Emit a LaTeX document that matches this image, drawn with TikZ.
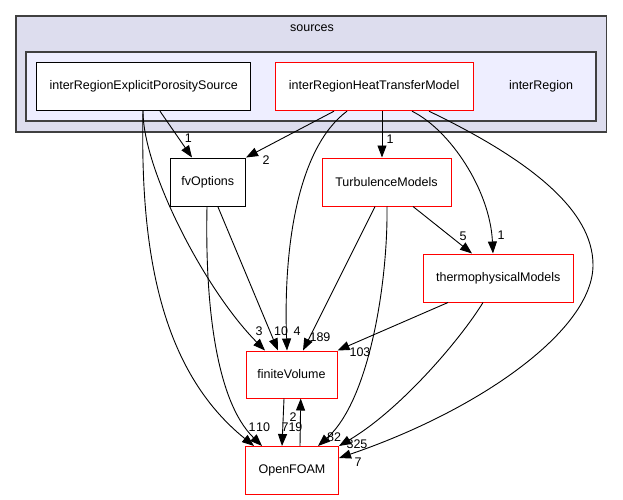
\documentclass[tikz,border=0pt]{standalone}
\usepackage{fontspec}
\setmainfont{Liberation Sans}
\usetikzlibrary{arrows.meta}
\definecolor{clusterouter}{HTML}{DDDDEE}
\definecolor{clusterinner}{HTML}{EEEEFF}
\definecolor{clusterline}{HTML}{404040}
\begin{document}
\begin{tikzpicture}[x=1pt,y=-1pt,
  txt/.style={font=\fontsize{12.5}{14}\selectfont},
  dirbox/.style={txt,draw=black,fill=white,line width=1pt,inner sep=0pt},
  redbox/.style={dirbox,draw=red},
  dep/.style={draw=black,line width=0.9pt,-{Triangle[length=12pt,width=9pt]}},
  lbl/.style={txt,inner sep=0pt},
  cluster/.style={draw=clusterline,line width=1.5pt}]
\useasboundingbox (0,0) rectangle (623,500);
\fill[white] (0,0) rectangle (623,500);

% directory clusters
\draw[cluster,fill=clusterouter] (16,16) rectangle (606.5,132);
\node[lbl] (srclabel) at (312,28) {sources};
\draw[cluster,fill=clusterinner] (26,52) rectangle (596,121);
\node[lbl] (irlabel) at (541,86.7) {interRegion};

% directories
\node[dirbox,minimum width=214pt,minimum height=48pt] (ep) at (143.7,86.7) {interRegionExplicitPorositySource};
\node[redbox,minimum width=197.7pt,minimum height=48pt] (ht) at (374.15,86.7) {interRegionHeatTransferModel};
\node[dirbox,minimum width=75.5pt,minimum height=48.5pt] (fvo) at (207.75,182.25) {fvOptions};
\node[redbox,minimum width=129pt,minimum height=48pt] (tm) at (386.5,182) {TurbulenceModels};
\node[redbox,minimum width=149.5pt,minimum height=48pt] (th) at (498.25,278) {thermophysicalModels};
\node[redbox,minimum width=91pt,minimum height=47pt] (fv) at (291.5,374.5) {finiteVolume};
\node[redbox,minimum width=93pt,minimum height=47.5pt] (of) at (292,470.25) {OpenFOAM};

% dependencies
\draw[dep] ([xshift=16.3pt]ep.south) -- ([xshift=-15.75pt]fvo.north);
\draw[dep] ([xshift=-0.7pt]ep.south) .. controls (143,170) and (205,290) .. ([xshift=-26.5pt]fv.north);
\draw[dep] ([xshift=-0.7pt]ep.south) .. controls (140,250) and (160,370) .. ([xshift=-38pt]of.north);
\draw[dep] ([xshift=10.25pt]fvo.south) -- ([xshift=-13.5pt]fv.north);
\draw[dep] ([xshift=-0.75pt]fvo.south) .. controls (205,300) and (215,400) .. ([xshift=-30pt]of.north);
\draw[dep] ([xshift=-40.15pt]ht.south) -- (fvo.north east);
\draw[dep] ([xshift=-27.15pt]ht.south) .. controls (300,146) and (283,240) .. ([xshift=-4.5pt]fv.north);
\draw[dep] ([xshift=7.85pt]ht.south) -- ([xshift=-4.5pt]tm.north);
\draw[dep] ([xshift=37.85pt]ht.south) .. controls (450,130) and (490,190) .. ([xshift=-5.25pt]th.north);
\draw[dep] ([xshift=54.85pt]ht.south) .. controls (530,160) and (593,210) .. (593,265)
  .. controls (593,330) and (480,410) .. ([yshift=12.25pt]of.east);
\draw[dep] ([xshift=-11.5pt]tm.south) -- ([xshift=11.5pt]fv.north);
\draw[dep] ([xshift=0.5pt]tm.south) .. controls (388,280) and (370,400) .. ([xshift=26pt]of.north);
\draw[dep] ([xshift=26.5pt]tm.south) -- ([xshift=-26.25pt]th.north);
\draw[dep] ([xshift=-50.25pt]th.south) -- (fv.north east);
\draw[dep] ([xshift=-15.25pt]th.south) .. controls (460,340) and (400,410) .. (of.north east);
\draw[dep] ([xshift=-7.5pt]fv.south) -- ([xshift=-10pt]of.north);
\draw[dep] ([xshift=8pt]of.north) -- ([xshift=9.2pt]fv.south);

% dependency counts
\node[lbl] (n1) at (188.3,138.3) {1};
\node[lbl] (n2) at (259,331) {3};
\node[lbl] (n3) at (252,427) {1};
\node[lbl] (n4) at (281,331) {10};
\node[lbl] (n5) at (263,427) {10};
\node[lbl] (n6) at (266,160) {2};
\node[lbl] (n7) at (297,331) {4};
\node[lbl] (n8) at (390,139) {1};
\node[lbl] (n9) at (501,235) {1};
\node[lbl] (n10) at (358,462) {7};
\node[lbl] (n11) at (320,337) {189};
\node[lbl] (n12) at (334,437) {82};
\node[lbl] (n13) at (463,236) {5};
\node[lbl] (n14) at (360,352) {103};
\node[lbl] (n15) at (357,444) {325};
\node[lbl] (n16) at (292,427) {719};
\node[lbl] (n17) at (293,417) {2};
\end{tikzpicture}
\end{document}
